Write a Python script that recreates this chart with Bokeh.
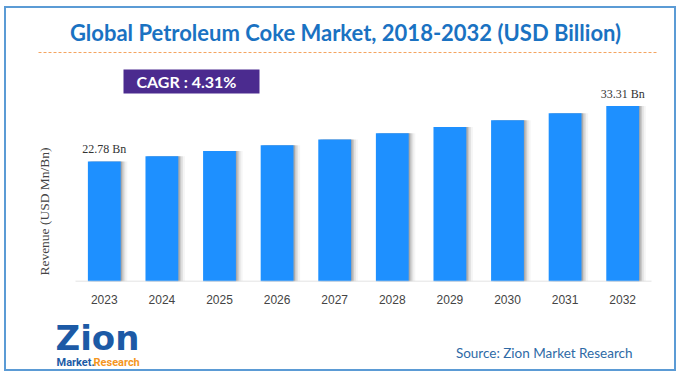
import math
from bokeh.plotting import figure
from bokeh.layouts import column
from bokeh.models import ColumnDataSource, Label, BoxAnnotation, Range1d, FixedTicker
from bokeh.core.properties import value
from bokeh.embed import file_html
from bokeh.resources import INLINE

years = ["2023", "2024", "2025", "2026", "2027", "2028", "2029", "2030", "2031", "2032"]
revenue = [22.78, 23.76, 24.78, 25.85, 26.96, 28.12, 29.33, 30.60, 31.92, 33.31]
title_text = "Global Petroleum Coke Market, 2018-2032 (USD Billion)"
cagr_text = "CAGR :  4.31%"
source_text = "Source: Zion Market Research"
y_label = "Revenue (USD Mn/Bn)"

W = 668
OX, OY = 6, 8            # image position of the layout's inner origin
AXIS_Y = 281             # image y of the x axis line
MAIN_BOTTOM = 312        # image y where the main figure ends
BOT_BOTTOM = 369         # image y where the bottom strip ends
H_MAIN = MAIN_BOTTOM - OY
B_MAIN = MAIN_BOTTOM - AXIS_Y
H_BOT = BOT_BOTTOM - MAIN_BOTTOM

pos = list(range(len(years)))
STEP = 57.6              # px per category
PX_PER_UNIT = 5.268      # px per USD Bn
x_start = -0.5 - (75 - OX) / STEP
x_end = x_start + W / STEP
y_end = (AXIS_Y - OY) / PX_PER_UNIT


def dx(img_x):
    return x_start + (img_x - OX) / STEP


def dy(img_y):
    return (AXIS_Y - img_y) / PX_PER_UNIT


p = figure(x_range=Range1d(x_start, x_end), y_range=Range1d(0, y_end), width=W, height=H_MAIN,
           output_backend="svg", toolbar_location=None, y_axis_type=None,
           min_border_left=0, min_border_right=0, min_border_top=0, min_border_bottom=B_MAIN)
p.outline_line_color = None
p.xgrid.grid_line_color = None
p.background_fill_color = "white"
p.border_fill_color = "white"

src = ColumnDataSource(dict(x=pos, year=years, y=revenue))
for off, col, a in [(0.115, "#a0a0a0", 0.10), (0.08, "#909090", 0.18),
                    (0.05, "#808080", 0.25), (0.025, "#606060", 0.30)]:
    p.vbar(x=[i + off for i in pos], top=revenue, width=0.57, fill_color=col,
           fill_alpha=a, line_color=None)
p.vbar(x="x", top="y", width=0.57, source=src, fill_color="#1e90ff", line_color=None)

# baseline spanning the categories only
p.segment(x0=[pos[0] - 0.5], y0=[0], x1=[pos[-1] + 0.5], y1=[0], line_color="#d9d9d9", line_width=1.5)

# dashed orange rule under the title
p.segment(x0=[dx(38)], y0=[dy(52)], x1=[dx(657)], y1=[dy(52)], line_color="#f4a460",
          line_width=1.2, line_dash="3 2")

lab_src = ColumnDataSource(dict(x=[pos[0], pos[-1]], y=[revenue[0], revenue[-1]],
                                t=[f"{revenue[0]:.2f} Bn", f"{revenue[-1]:.2f} Bn"]))
p.text(x="x", y="y", text="t", source=lab_src, text_align="center", text_baseline="bottom",
       y_offset=-5, text_font=value("Liberation Serif"), text_font_size="12px", text_color="#333333")

p.xaxis.ticker = FixedTicker(ticks=pos)
p.xaxis.major_label_overrides = {i: y for i, y in zip(pos, years)}
p.xaxis.axis_line_color = None
p.xaxis.major_tick_line_color = None
p.xaxis.minor_tick_line_color = None
p.xaxis.major_label_standoff = 7
p.xaxis.major_label_text_font = "Liberation Sans"
p.xaxis.major_label_text_font_size = "12px"
p.xaxis.major_label_text_color = "#444444"


def sx(img_x):
    return img_x - OX


def lab(fig, bottom, x, y, text, **kw):
    fig.add_layout(Label(x=sx(x), y=bottom - y, x_units="screen", y_units="screen", text=text, **kw))


lab(p, AXIS_Y, 345, 32, title_text, text_align="center", text_baseline="middle", text_font="Lato",
    text_font_style="bold", text_font_size="22px", text_color="#1a72c2")
p.add_layout(BoxAnnotation(left=sx(123), right=sx(259), top=AXIS_Y - 69, bottom=AXIS_Y - 93,
                           left_units="screen", right_units="screen", top_units="screen",
                           bottom_units="screen", fill_color="#4b2b8f", fill_alpha=1,
                           line_color=None))
lab(p, AXIS_Y, 136, 81, cagr_text, text_align="left", text_baseline="middle", text_font="Lato",
    text_font_style="bold", text_font_size="16px", text_color="white")
lab(p, AXIS_Y, 44, 211, y_label, text_align="center", text_baseline="middle",
    text_font="Liberation Serif", text_font_size="13.5px", text_color="#444444", angle=math.pi / 2)

b = figure(x_range=Range1d(0, W), y_range=Range1d(0, H_BOT), width=W, height=H_BOT,
           output_backend="svg", toolbar_location=None, x_axis_type=None, y_axis_type=None,
           min_border=0)
b.outline_line_color = None
b.xgrid.grid_line_color = None
b.ygrid.grid_line_color = None
b.background_fill_color = "white"
b.border_fill_color = "white"

lab(b, BOT_BOTTOM, 632, 352, source_text, text_align="right", text_baseline="middle", text_font="Lato",
    text_font_size="13.5px", text_color="#2e6aa6")
lab(b, BOT_BOTTOM, 55, 337, "Zion", text_align="left", text_baseline="middle", text_font="DejaVu Sans",
    text_font_style="bold", text_font_size="34px", text_color="#1c5aa6")
lab(b, BOT_BOTTOM, 56, 362, "Market.", text_align="left", text_baseline="middle", text_font="Roboto",
    text_font_style="bold", text_font_size="11px", text_color="#1c5aa6")
lab(b, BOT_BOTTOM, 93, 362, "Research", text_align="left", text_baseline="middle", text_font="Roboto",
    text_font_style="bold", text_font_size="11px", text_color="#f5961e")

layout = column(p, b, spacing=0)
layout.styles = {"border": "2px solid #5b9bd5", "margin-left": "4px", "margin-top": "6px"}

open("out.html", "w").write(file_html(layout, INLINE))
